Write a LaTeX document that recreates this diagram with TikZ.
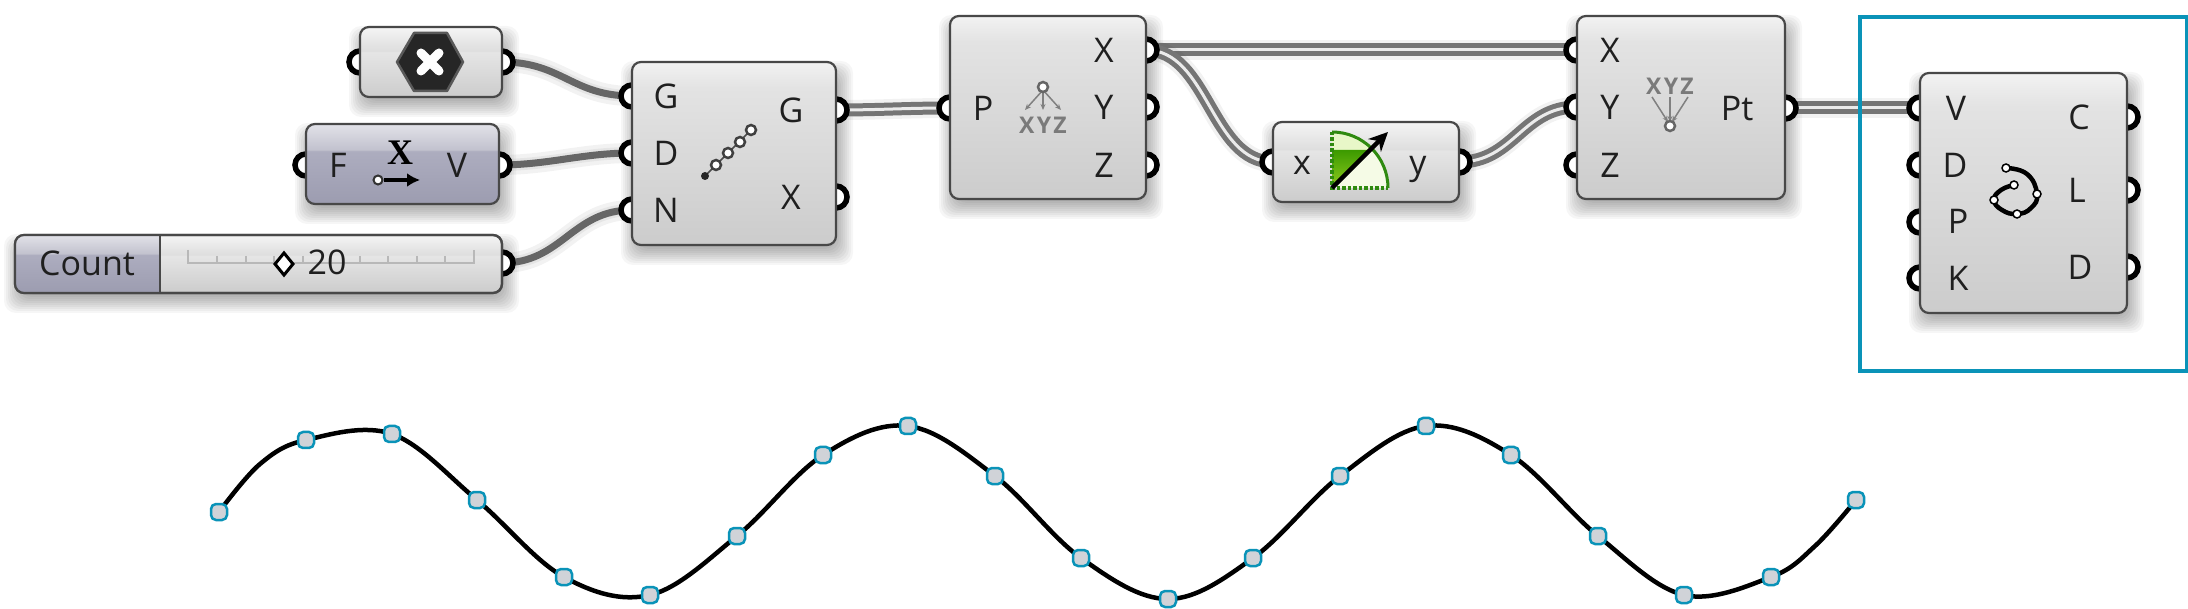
\documentclass[tikz,border=0pt]{standalone}
\usepackage{fontspec}
\setmainfont{Open Sans}
\newfontfamily\serifx{Liberation Serif}
\usetikzlibrary{arrows.meta,backgrounds}
\pgfdeclarelayer{shadowlayer}
\pgfdeclarelayer{wirelayer}
\pgfsetlayers{shadowlayer,wirelayer,main}
\definecolor{framecol}{HTML}{0A93B8}
\definecolor{wirecol}{HTML}{666666}
\definecolor{edgecol}{HTML}{484848}
\definecolor{cptfill}{HTML}{D0D3D8}
\pgfdeclareverticalshading{gtall}{100bp}{color(0bp)=(white!80!black); color(25bp)=(white!80!black); color(68bp)=(white!89!black); color(75bp)=(white!95!black); color(100bp)=(white!95!black)}
\pgfdeclareverticalshading{gshort}{100bp}{color(0bp)=(white!80!black); color(25bp)=(white!80!black); color(57bp)=(white!90!black); color(58bp)=(white!87!black); color(75bp)=(white!96!black); color(100bp)=(white!96!black)}
\definecolor{bluea}{HTML}{E2E2E8}
\definecolor{blueb}{HTML}{C2C2CE}
\definecolor{bluec}{HTML}{ADADBF}
\definecolor{blued}{HTML}{9C9CB0}
\definecolor{palegreen}{HTML}{E8F7C8}
\definecolor{palergreen}{HTML}{F5FBE6}
\definecolor{greenhi}{HTML}{8FCB1E}
\definecolor{greenlo}{HTML}{3C9A00}
\definecolor{greenline}{HTML}{2F8A10}
\pgfdeclareverticalshading{gblue}{100bp}{color(0bp)=(blued); color(25bp)=(blued); color(58bp)=(bluec); color(59bp)=(blueb); color(75bp)=(bluea); color(100bp)=(bluea)}
\tikzset{
  x=1pt,y=-1pt,
  gbody/.style={draw=edgecol,line width=2.2pt,rounded corners=9pt,inner sep=0pt,outer sep=0pt},
  port/.style={circle,draw=black,fill=white,line width=5.5pt,minimum size=22pt,inner sep=0pt,outer sep=0pt},
  lab/.style={inner sep=0pt,outer sep=0pt,text height=25pt,text depth=0pt,font=\fontsize{34}{40}\selectfont,text=black!88},
  cpoint/.style={rectangle,rounded corners=5pt,draw=framecol,fill=cptfill,line width=2.5pt,minimum size=16pt,inner sep=0pt},
  onewire/.style={draw=wirecol,line width=7pt},
  twowire/.style={draw=wirecol!90,line width=5pt,double=white!92!black,double distance=3pt},
  icondot/.style={circle,draw=black!75,fill=white,line width=2.5pt,minimum size=10pt,inner sep=0pt},
  xyz/.style={inner sep=0pt,text=black!52,font=\bfseries\fontsize{23}{23}\selectfont\addfontfeature{LetterSpace=10}},
}
% name, x1, y1, x2, y2, shading
\newcommand{\gbox}[6]{%
  \pgfmathsetmacro{\cxx}{(#2+#4)/2}%
  \pgfmathsetmacro{\cyy}{(#3+#5)/2}%
  \pgfmathsetmacro{\wdd}{#4-#2}%
  \pgfmathsetmacro{\htt}{#5-#3}%
  \begin{pgfonlayer}{shadowlayer}
    \foreach \g in {14,12,10,8,6,4,2,0,-2,-4,-6}{%
      \fill[black,opacity=.035,rounded corners=12pt]
        (#2+3-\g,#3+13-\g) rectangle (#4+3+\g,#5+6+\g);
    }
  \end{pgfonlayer}
  \node[gbody,shading=#6,minimum width=\wdd pt,minimum height=\htt pt] (#1) at (\cxx,\cyy) {};
}
\newcommand{\gport}[3]{\node[port] (#1) at (#2,#3) {};}
\newcommand{\glab}[4]{\node[lab] (#1) at (#2,#3) {#4};}
% wire: style, a, b, handle length
\newcommand{\gwire}[4]{%
  \begin{pgfonlayer}{wirelayer}
    \begin{scope}[shift={(3,9)}]
      \draw[black,opacity=.05,line width=20pt] (#2.center) .. controls +(#4,0) and +(-#4,0) .. (#3.center);
      \draw[black,opacity=.05,line width=12pt] (#2.center) .. controls +(#4,0) and +(-#4,0) .. (#3.center);
    \end{scope}
    \draw[#1] (#2.center) .. controls +(#4,0) and +(-#4,0) .. (#3.center);
  \end{pgfonlayer}
}
\begin{document}
\begin{tikzpicture}
\useasboundingbox (0,0) rectangle (2188,609);
\begin{pgfonlayer}{shadowlayer}
\fill[white] (0,0) rectangle (2188,609);
\end{pgfonlayer}

% ---- ports
\gport{ai}{360}{62}\gport{ao}{502}{62}
\gport{fi}{306}{165}\gport{fo}{499}{165}
\gport{co}{502}{263}
\gport{sg}{632}{96}\gport{sd}{632}{153}\gport{sn}{632}{210}
\gport{ox}{836}{197}\gport{og}{836}{110}
\gport{pp}{950}{108}\gport{px}{1146}{50}\gport{py}{1146}{107}\gport{pz}{1146}{165}
\gport{xi}{1273}{162}\gport{yo}{1459}{162}
\gport{cx}{1577}{50}\gport{cy}{1577}{107}\gport{cz}{1577}{165}\gport{pt}{1785}{108}
\gport{nv}{1920}{108}\gport{nd}{1920}{165}\gport{np}{1920}{222}\gport{nk}{1920}{278}
\gport{nc}{2127}{117}\gport{nl}{2127}{190}\gport{ne}{2127}{267}

% ---- wires
\gwire{onewire}{ao}{sg}{60}
\gwire{onewire}{fo}{sd}{50}
\gwire{onewire}{co}{sn}{60}
\gwire{twowire}{og}{pp}{45}
\gwire{twowire}{px}{cx}{100}
\gwire{twowire}{px}{xi}{62}
\gwire{twowire}{yo}{cy}{55}
\gwire{twowire}{pt}{nv}{50}

% ---- bodies
\gbox{hexbox}{360}{27}{502}{97}{gshort}
\gbox{fbox}{306}{124}{499}{204}{gblue}
\gbox{slider}{15}{235}{502}{293}{gshort}
\gbox{series}{632}{62}{836}{245}{gtall}
\gbox{decon}{950}{16}{1146}{199}{gtall}
\gbox{radbox}{1273}{122}{1459}{202}{gshort}
\gbox{cons}{1577}{16}{1785}{199}{gtall}
\gbox{nurbs}{1920}{73}{2127}{313}{gtall}

% ---- Count slider
\begin{scope}
  \clip[rounded corners=9pt] (15,235) rectangle (502,293);
  \shade[shading=gblue] (15,235) rectangle (160,293);
\end{scope}
\draw[edgecol,line width=2.2pt,rounded corners=9pt] (15,235) rectangle (502,293);
\draw[edgecol,line width=2.2pt] (160,235) -- (160,293);
\draw[black!28,line width=1.5pt] (188,250) -- (188,263) -- (474,263) -- (474,250);
\foreach \t in {217,246,274,303,331,360,388,417,445}{\draw[black!28,line width=1.5pt] (\t,256) -- (\t,263);}
\glab{lcount}{87}{263}{Count}
\draw[black,fill=white,line width=3pt] (284,253) -- (293,264) -- (284,275) -- (275,264) -- cycle;
\glab{lval}{327}{262}{20}

% ---- hex icon
\draw[fill=black!85,draw=black!65,line width=2.5pt,line join=round] (397,62) -- (414,33) -- (447,33) -- (463,62) -- (447,91) -- (414,91) -- cycle;
\draw[white,line width=9pt,line cap=round] (421,53) -- (439,71) (439,53) -- (421,71);

% ---- F / V
\glab{lf}{338}{165}{F}
\glab{lv}{457}{165}{V}
\node[inner sep=0pt,text height=24pt,text depth=0pt,font=\serifx\bfseries\fontsize{36}{36}\selectfont] (lx) at (400,153) {X};
\node[circle,draw=black!80,fill=white,line width=2pt,minimum size=9pt,inner sep=0pt] (ad) at (378,180) {};
\coordinate (at) at (420,180);
\draw[black,line width=3.5pt,-{Latex[length=13pt,width=14pt]}] (ad) -- (at);

% ---- series
\glab{lg}{666}{96}{G}\glab{ld}{666}{153}{D}\glab{ln}{666}{210}{N}
\glab{lgo}{791}{110}{G}\glab{lxo}{791}{197}{X}
\draw[black!70,line width=1.5pt] (705,176) -- (751,130);
\fill[black!85] (705,176) circle (4pt);
\foreach \q/\w in {716/165,728/153,740/142,751/130}{\node[icondot] at (\q,\w) {};}

% ---- deconstruct
\glab{lp}{983}{108}{P}\glab{lx1}{1104}{50}{X}\glab{ly1}{1104}{107}{Y}\glab{lz1}{1104}{165}{Z}
\node[xyz] (xyz1) at (1043,125) {XYZ};
\draw[black!50,line width=1.5pt,-{Stealth[length=6pt,width=5pt]}] (1043,90) -- (1025,110);
\draw[black!50,line width=1.5pt,-{Stealth[length=6pt,width=5pt]}] (1043,90) -- (1043,110);
\draw[black!50,line width=1.5pt,-{Stealth[length=6pt,width=5pt]}] (1043,90) -- (1061,110);
\node[circle,draw=black!60,fill=white,line width=2.5pt,minimum size=10pt,inner sep=0pt] (dc1) at (1043,87) {};

% ---- radians
\glab{lxr}{1302}{162}{x}\glab{lyr}{1418}{162}{y}
\fill[palergreen] (1332,188) -- (1332,132) arc[start angle=90,end angle=0,radius=56pt] -- cycle;
\fill[palegreen] (1332,132) arc[start angle=90,end angle=45,radius=56pt] -- (1332,188) -- cycle;
\shade[top color=greenlo,bottom color=greenhi] (1332,150) -- (1368,150) -- (1332,188) -- cycle;
\draw[greenline,line width=3pt] (1332,132) arc[start angle=90,end angle=0,radius=56pt];
\draw[greenline,line width=3.5pt,dotted] (1332,132) -- (1332,188) -- (1388,188);
\draw[black,line width=4.5pt,-{Stealth[length=19pt,width=18pt]}] (1332,188) -- (1388,132);

% ---- construct
\glab{lx2}{1610}{50}{X}\glab{ly2}{1610}{107}{Y}\glab{lz2}{1610}{165}{Z}\glab{lpt}{1737}{108}{Pt}
\node[xyz] (xyz2) at (1670,86) {XYZ};
\draw[black!50,line width=1.5pt,-{Stealth[length=6pt,width=5pt]}] (1652,97) -- (1668,122);
\draw[black!50,line width=1.5pt,-{Stealth[length=6pt,width=5pt]}] (1670,97) -- (1670,122);
\draw[black!50,line width=1.5pt,-{Stealth[length=6pt,width=5pt]}] (1688,97) -- (1672,122);
\node[circle,draw=black!60,fill=white,line width=2.5pt,minimum size=10pt,inner sep=0pt] (dc2) at (1670,126) {};

% ---- nurbs
\glab{lnv}{1956}{108}{V}\glab{lnd}{1955}{165}{D}\glab{lnp}{1958}{221}{P}\glab{lnk}{1958}{278}{K}
\glab{lnc}{2079}{117}{C}\glab{lnl}{2077}{190}{L}\glab{lne}{2080}{267}{D}
\draw[black,line width=4.5pt,line cap=round] plot[smooth,tension=.8] coordinates {(2006,168) (2027,174) (2037,194) (2031,208) (2017,214) (2002,210) (1994,200) (2001,190) (2014,185)};
\foreach \q/\w in {2006/168,2037/194,2017/214,1994/200,2014/185}{\node[circle,draw=black,fill=white,line width=1.5pt,minimum size=8pt,inner sep=0pt] at (\q,\w) {};}

% ---- output curve
\foreach \q/\w [count=\i] in {219/512,306/440,392/434,477/500,564/577,650/595,737/536,823/455,908/426,995/476,1081/558,1168/599,1253/558,1340/476,1426/426,1511/455,1598/536,1684/595,1771/577,1856/500}{
  \node[cpoint] (c\i) at (\q,\w) {};
}
\coordinate (e1) at (260,464);
\coordinate (e2) at (1815,546);
\begin{pgfonlayer}{wirelayer}
\draw[black,line width=4.5pt] plot[smooth,tension=.6] coordinates {(c1) (e1) (c2) (c3) (c4) (c5) (c6) (c7) (c8) (c9) (c10) (c11) (c12) (c13) (c14) (c15) (c16) (c17) (c18) (c19) (e2) (c20)};
\end{pgfonlayer}

% ---- frame
\node[draw=framecol,line width=3.2pt,minimum width=327pt,minimum height=354pt,inner sep=0pt,outer sep=0pt] (frame) at (2023.5,194) {};
\end{tikzpicture}
\end{document}
